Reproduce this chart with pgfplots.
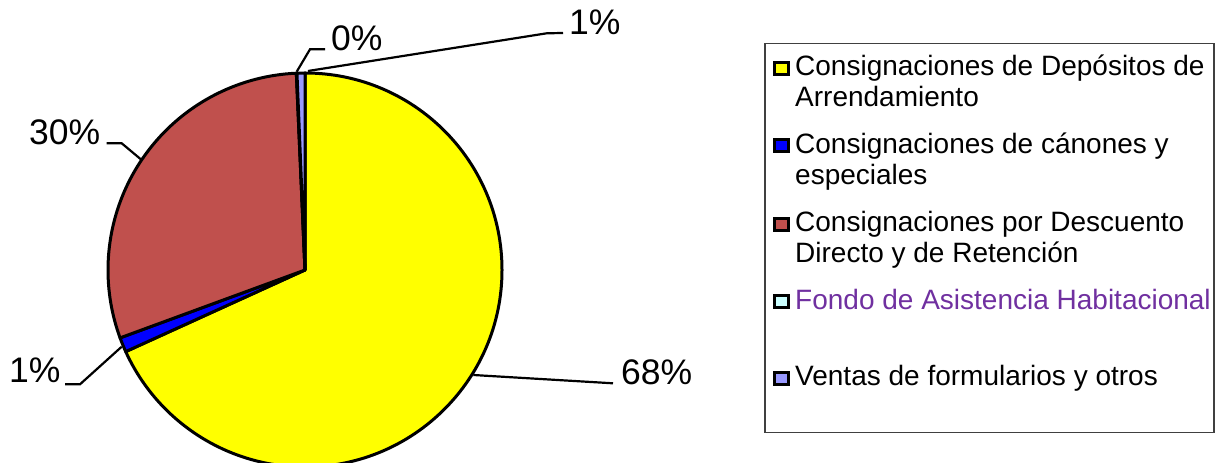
\documentclass[border=0pt]{standalone}
\usepackage{pgfplots}
\usepackage{pgfplotstable}
\pgfplotsset{compat=1.18}
\usepackage{fontspec}
\setmainfont{Liberation Sans}
\definecolor{cyellow}{HTML}{FFFF00}
\definecolor{cblue}{HTML}{0000FF}
\definecolor{cred}{HTML}{C0504D}
\definecolor{ccyan}{HTML}{CCFFFF}
\definecolor{clav}{HTML}{9999FF}
\definecolor{cpurple}{HTML}{7030A0}

\pgfplotstableread{
value
68.2
1.2
29.9
0.05
0.65
}\pietable

\begin{document}
\begin{tikzpicture}
\pgfplotstablegetelem{0}{value}\of\pietable \let\vA\pgfplotsretval
\pgfplotstablegetelem{1}{value}\of\pietable \let\vB\pgfplotsretval
\pgfplotstablegetelem{2}{value}\of\pietable \let\vC\pgfplotsretval
\pgfplotstablegetelem{3}{value}\of\pietable \let\vD\pgfplotsretval
\pgfplotstablegetelem{4}{value}\of\pietable \let\vE\pgfplotsretval
\pgfmathsetmacro\aA{90}
\pgfmathsetmacro\aB{\aA-3.6*\vA}
\pgfmathsetmacro\aC{\aB-3.6*\vB}
\pgfmathsetmacro\aD{\aC-3.6*\vC}
\pgfmathsetmacro\aE{\aD-3.6*\vD}
\pgfmathsetmacro\aF{\aE-3.6*\vE}
\begin{axis}[scale only axis, width=1222bp, height=463bp,
  xmin=0, xmax=1222, ymin=0, ymax=463, hide axis, clip=true]
\coordinate (bl) at (axis cs:0,0);
\coordinate (tr) at (axis cs:1222,463);
\newcommand\slice[3]{\filldraw[fill=#3, draw=black, line width=3bp, line join=round]
  (axis cs:305,193) -- ++(#1:197bp) arc[start angle=#1, end angle=#2, radius=197bp] -- cycle;}
\slice{\aA}{\aB}{cyellow}
\slice{\aB}{\aC}{cblue}
\slice{\aC}{\aD}{cred}
\slice{\aD}{\aE}{ccyan}
\slice{\aE}{\aF}{clav}
% leader lines
\draw[line width=2.2bp] (axis cs:296.7,391.3) -- (axis cs:310,413.7) -- (axis cs:325,413.7);
\draw[line width=2.2bp] (axis cs:308,392) -- (axis cs:546.7,429.7) -- (axis cs:563,430);
\draw[line width=2.2bp] (axis cs:106.7,319.7) -- (axis cs:121.7,319.7) -- (axis cs:141.7,303);
\draw[line width=2.2bp] (axis cs:65,78.7) -- (axis cs:80,78.7) -- (axis cs:121.7,116.3);
\draw[line width=2.2bp] (axis cs:473.3,88) -- (axis cs:613,79.7);
\begin{scope}[every node/.style={inner sep=0pt, anchor=base west, font=\fontsize{35.5bp}{40bp}\selectfont}]
\node at (axis cs:331,412) {0\%};
\node at (axis cs:569,428) {1\%};
\node at (axis cs:29,318) {30\%};
\node at (axis cs:9,80) {1\%};
\node at (axis cs:621,78) {68\%};
\end{scope}
% legend
\draw[line width=1.3bp, black!75] (axis cs:765,419.7) rectangle (axis cs:1214,30.3);
\begin{scope}[every node/.style={inner sep=0pt, anchor=base west, font=\fontsize{28bp}{31bp}\selectfont}]
\node at (axis cs:795,387) {Consignaciones de Depósitos de};
\node at (axis cs:795,356.3) {Arrendamiento};
\node at (axis cs:795,309.7) {Consignaciones de cánones y};
\node at (axis cs:795,278) {especiales};
\node at (axis cs:795,231) {Consignaciones por Descuento};
\node at (axis cs:795,200) {Directo y de Retención};
\node[text=cpurple] at (axis cs:795,153.7) {Fondo de Asistencia Habitacional};
\node at (axis cs:795,77) {Ventas de formularios y otros};
\end{scope}
\newcommand\legsq[2]{\draw[fill=#2, line width=3bp] (axis cs:774.6,#1-6) rectangle (axis cs:788.6,#1+6);}
\legsq{394}{cyellow}
\legsq{317.3}{cblue}
\legsq{238.5}{cred}
\legsq{161.5}{ccyan}
\legsq{84.5}{clav}
\end{axis}
\pgfresetboundingbox
\path (bl) rectangle (tr);
\end{tikzpicture}
\end{document}
